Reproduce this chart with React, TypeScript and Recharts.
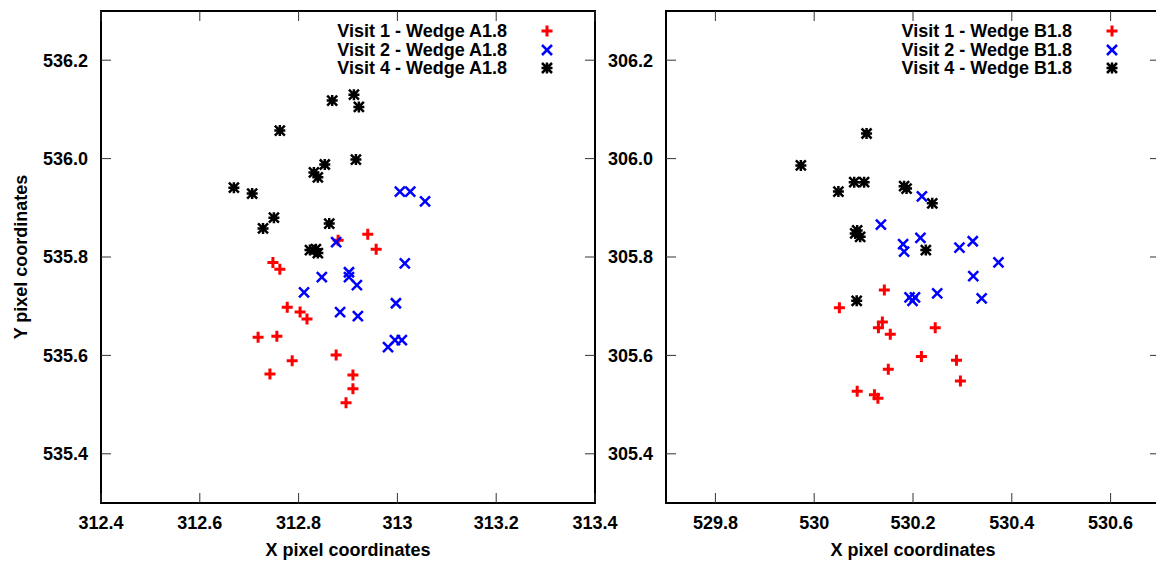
import React from 'react';
import { ScatterChart, Scatter, XAxis, YAxis, ReferenceArea, Legend } from 'recharts';

type Pt = [number, number];

// wedge A1.8 (left panel)
const leftVisit1: Pt[] = [
  [312.880, 535.834], [312.940, 535.846], [312.957, 535.816], [312.748, 535.789],
  [312.762, 535.775], [312.777, 535.698], [312.803, 535.688], [312.817, 535.674],
  [312.718, 535.637], [312.756, 535.639], [312.876, 535.601], [312.787, 535.589],
  [312.742, 535.562], [312.910, 535.560], [312.910, 535.532], [312.896, 535.504],
];
const leftVisit2: Pt[] = [
  [313.005, 535.933], [313.026, 535.933], [313.056, 535.913], [312.876, 535.830],
  [313.015, 535.787], [312.847, 535.759], [312.902, 535.769], [312.902, 535.759],
  [312.918, 535.743], [312.811, 535.728], [312.997, 535.706], [312.884, 535.688],
  [312.920, 535.680], [312.995, 535.631], [313.009, 535.631], [312.981, 535.617],
];
const leftVisit4: Pt[] = [
  [312.669, 535.941], [312.706, 535.929], [312.762, 536.057], [312.750, 535.880],
  [312.728, 535.858], [312.868, 536.118], [312.912, 536.130], [312.922, 536.105],
  [312.853, 535.988], [312.916, 535.998], [312.831, 535.972], [312.839, 535.962],
  [312.862, 535.868], [312.823, 535.814], [312.835, 535.816], [312.839, 535.808],
];

// wedge B1.8 (right panel)
const rightVisit1: Pt[] = [
  [530.142, 305.733], [530.051, 305.697], [530.138, 305.668], [530.130, 305.656],
  [530.154, 305.643], [530.245, 305.656], [530.217, 305.598], [530.288, 305.590],
  [530.150, 305.572], [530.296, 305.548], [530.087, 305.527], [530.122, 305.520],
  [530.129, 305.513],
];
const rightVisit2: Pt[] = [
  [530.218, 305.923], [530.135, 305.866], [530.180, 305.826], [530.182, 305.811],
  [530.215, 305.839], [530.294, 305.819], [530.321, 305.832], [530.373, 305.789],
  [530.322, 305.761], [530.193, 305.718], [530.204, 305.718], [530.199, 305.711],
  [530.249, 305.726], [530.339, 305.716],
];
const rightVisit4: Pt[] = [
  [530.106, 306.051], [529.973, 305.986], [530.081, 305.952], [530.101, 305.952],
  [530.049, 305.933], [530.182, 305.944], [530.187, 305.939], [530.239, 305.909],
  [530.083, 305.848], [530.093, 305.841], [530.087, 305.854], [530.226, 305.814],
  [530.086, 305.711],
];

const leftXTicks = [312.4, 312.6, 312.8, 313, 313.2, 313.4];
const leftYTicks = [535.4, 535.6, 535.8, 536.0, 536.2];
const rightXTicks = [529.8, 530, 530.2, 530.4, 530.6];
const rightYTicks = [305.4, 305.6, 305.8, 306.0, 306.2];

const leftLabels = ['Visit 1 - Wedge A1.8', 'Visit 2 - Wedge A1.8', 'Visit 4 - Wedge A1.8'];
const rightLabels = ['Visit 1 - Wedge B1.8', 'Visit 2 - Wedge B1.8', 'Visit 4 - Wedge B1.8'];

const FONT = '"Liberation Sans", Arial, Helvetica, sans-serif';
const textStyle = { fontFamily: FONT, fontSize: 18, fontWeight: 'bold' as const, fill: '#000' };

const PT = 11;
const PB = 503;
const TICK = 10;

type Kind = 'plus' | 'cross' | 'star';
const kinds: Kind[] = ['plus', 'cross', 'star'];
const colors = ['#ff0000', '#0000ff', '#000000'];

function Marker({ cx, cy, kind, color }: { cx: number; cy: number; kind: Kind; color: string }) {
  const r = 5.5;
  const plus = `M${cx - r},${cy}H${cx + r}M${cx},${cy - r}V${cy + r}`;
  const c = 5;
  const cross = `M${cx - c},${cy - c}L${cx + c},${cy + c}M${cx - c},${cy + c}L${cx + c},${cy - c}`;
  if (kind === 'plus') return <path d={plus} stroke={color} strokeWidth={3} fill="none" />;
  if (kind === 'cross') return <path d={cross} stroke={color} strokeWidth={2.5} fill="none" />;
  return <path d={plus + cross} stroke={color} strokeWidth={2.5} fill="none" />;
}

const fmt = (v: number) => String(Number(v.toFixed(1)));

function LegendBox({ labels }: { labels: string[] }) {
  return (
    <div style={{ fontFamily: FONT, fontSize: 18, fontWeight: 'bold', color: '#000' }}>
      {labels.map((l, i) => (
        <div key={l} style={{ display: 'flex', justifyContent: 'flex-end', alignItems: 'center', height: 18.5 }}>
          <span style={{ lineHeight: '18.5px', whiteSpace: 'nowrap' }}>{l}</span>
          <svg width={26} height={18} style={{ marginLeft: 27 }}>
            <Marker cx={13} cy={9} kind={kinds[i]} color={colors[i]} />
          </svg>
        </div>
      ))}
    </div>
  );
}

interface PanelProps {
  left: number;
  axisW: number;
  mr: number;
  xDomain: [number, number];
  yDomain: [number, number];
  xTicks: number[];
  yTicks: number[];
  labels: string[];
  sets: Pt[][];
  yTitle?: boolean;
}

function Panel({ left, axisW, mr, xDomain, yDomain, xTicks, yTicks, labels, sets, yTitle }: PanelProps) {
  const plotW = 494;
  const width = axisW + plotW + mr;
  const pl = axisW;
  const pr = axisW + plotW;

  const xTick = (p: any) => (
    <g>
      <line x1={p.x} x2={p.x} y1={PB} y2={PB - TICK} stroke="#333" strokeWidth={1} />
      <line x1={p.x} x2={p.x} y1={PT} y2={PT + TICK} stroke="#333" strokeWidth={1} />
      <text x={p.x} y={529} textAnchor="middle" style={textStyle}>{fmt(p.payload.value)}</text>
    </g>
  );
  const yTick = (p: any) => (
    <g>
      <line x1={pl} x2={pl + TICK} y1={p.y} y2={p.y} stroke="#333" strokeWidth={1} />
      <line x1={pr - TICK} x2={pr} y1={p.y} y2={p.y} stroke="#333" strokeWidth={1} />
      <text x={p.x} y={p.y} dy="0.36em" textAnchor="end" style={textStyle}>{p.payload.value.toFixed(1)}</text>
    </g>
  );

  return (
    <div style={{ position: 'absolute', left, top: 0 }}>
      <ScatterChart width={width} height={561} margin={{ top: PT, right: mr, bottom: 0, left: 0 }}>
        <XAxis
          type="number"
          dataKey="x"
          domain={xDomain}
          ticks={xTicks}
          interval={0}
          allowDataOverflow
          axisLine={false}
          tickLine={false}
          tickSize={0}
          height={58}
          tick={xTick}
          label={{ value: 'X pixel coordinates', position: 'insideBottom', offset: 5, style: textStyle }}
        />
        <YAxis
          type="number"
          dataKey="y"
          domain={yDomain}
          ticks={yTicks}
          interval={0}
          allowDataOverflow
          axisLine={false}
          tickLine={false}
          tickSize={0}
          tickMargin={13}
          width={axisW}
          tick={yTick}
          label={
            yTitle
              ? {
                  content: () => (
                    <text x={27} y={(PT + PB) / 2} transform={`rotate(-90, 27, ${(PT + PB) / 2})`} textAnchor="middle" style={textStyle}>
                      Y pixel coordinates
                    </text>
                  ),
                }
              : undefined
          }
        />
        <ReferenceArea x1={xDomain[0]} x2={xDomain[1]} y1={yDomain[0]} y2={yDomain[1]} fill="none" stroke="#000" strokeWidth={2} ifOverflow="visible" />
        {sets.map((s, i) => (
          <Scatter
            key={labels[i]}
            name={labels[i]}
            data={s.map(([x, y]) => ({ x, y }))}
            fill={colors[i]}
            isAnimationActive={false}
            shape={(p: any) => <Marker cx={p.cx} cy={p.cy} kind={kinds[i]} color={colors[i]} />}
          />
        ))}
        <Legend
          layout="vertical"
          align="center"
          verticalAlign="middle"
          wrapperStyle={{ left: pl + 200, top: 22, width: 259 }}
          content={() => <LegendBox labels={labels} />}
        />
      </ScatterChart>
    </div>
  );
}

export default function App() {
  return (
    <div style={{ position: 'absolute', left: 0, top: 0, width: 1156, height: 561, overflow: 'hidden', background: '#fff' }}>
      <Panel
        left={0}
        axisW={101}
        mr={45}
        xDomain={[312.4, 313.4]}
        yDomain={[535.3, 536.3]}
        xTicks={leftXTicks}
        yTicks={leftYTicks}
        labels={leftLabels}
        sets={[leftVisit1, leftVisit2, leftVisit4]}
        yTitle
      />
      <Panel
        left={566}
        axisW={100}
        mr={6}
        xDomain={[529.7, 530.7]}
        yDomain={[305.3, 306.3]}
        xTicks={rightXTicks}
        yTicks={rightYTicks}
        labels={rightLabels}
        sets={[rightVisit1, rightVisit2, rightVisit4]}
      />
    </div>
  );
}
